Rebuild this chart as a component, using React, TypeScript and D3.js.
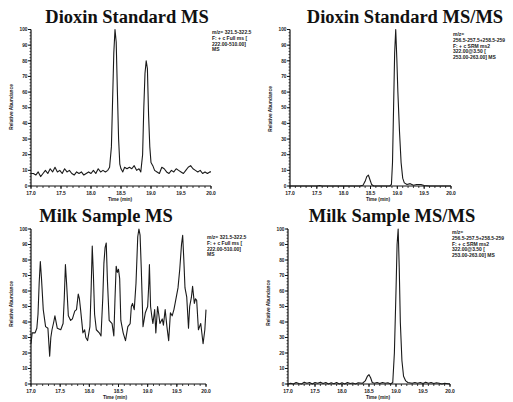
import React from 'react';
import * as d3 from 'd3';

// data: [time (min), relative abundance]
const stdMs: [number, number][] = [
  [17.0, 8], [17.04, 8], [17.08, 7], [17.12, 9], [17.16, 6], [17.2, 8], [17.24, 10], [17.28, 8],
  [17.32, 11], [17.36, 9], [17.4, 12], [17.44, 9], [17.48, 10], [17.52, 8], [17.56, 11], [17.6, 9],
  [17.64, 10], [17.68, 8], [17.72, 7], [17.76, 9], [17.8, 8], [17.84, 9], [17.88, 7], [17.92, 8],
  [17.96, 9], [18.0, 8], [18.04, 10], [18.08, 8], [18.12, 11], [18.16, 9], [18.2, 10], [18.24, 9],
  [18.28, 10], [18.31, 12], [18.34, 25], [18.36, 55], [18.38, 85], [18.4, 100], [18.42, 92],
  [18.44, 60], [18.46, 30], [18.48, 14], [18.5, 11], [18.53, 9], [18.56, 12], [18.6, 11],
  [18.64, 12], [18.68, 11], [18.72, 13], [18.76, 10], [18.8, 11], [18.83, 9], [18.86, 20],
  [18.88, 50], [18.9, 72], [18.92, 80], [18.94, 75], [18.96, 45], [18.98, 25], [19.0, 15],
  [19.03, 13], [19.06, 10], [19.1, 9], [19.14, 8], [19.18, 12], [19.22, 11], [19.26, 9], [19.3, 8],
  [19.34, 10], [19.38, 9], [19.42, 11], [19.46, 10], [19.5, 9], [19.54, 8], [19.58, 10], [19.62, 12],
  [19.66, 13], [19.7, 11], [19.74, 10], [19.78, 9], [19.82, 10], [19.86, 8], [19.9, 9], [19.94, 8],
  [19.98, 9], [20.0, 9],
];

const stdMsMs: [number, number][] = [
  [17.0, 0], [17.5, 0], [17.55, 0.3], [17.6, 0], [18.3, 0], [18.36, 0.5], [18.4, 3], [18.43, 6],
  [18.46, 7], [18.49, 4], [18.52, 1], [18.56, 0], [18.86, 0], [18.89, 1], [18.91, 15], [18.93, 50],
  [18.95, 85], [18.97, 100], [18.99, 82], [19.01, 60], [19.04, 35], [19.07, 15], [19.1, 5],
  [19.13, 2], [19.18, 1], [19.24, 1.5], [19.3, 0.5], [19.36, 1], [19.44, 1], [19.5, 0.3],
  [19.6, 0], [20.0, 0],
];

const milkMs: [number, number][] = [
  [17.0, 26], [17.02, 33], [17.07, 33], [17.1, 36], [17.12, 45], [17.14, 65], [17.16, 79],
  [17.18, 68], [17.21, 48], [17.25, 37], [17.29, 36], [17.32, 18], [17.34, 30], [17.36, 35],
  [17.39, 40], [17.41, 44], [17.45, 36], [17.51, 35], [17.55, 39], [17.57, 55], [17.59, 77],
  [17.61, 65], [17.64, 44], [17.68, 41], [17.71, 42], [17.75, 47], [17.78, 48], [17.81, 58],
  [17.83, 55], [17.85, 48], [17.89, 33], [17.92, 35], [17.94, 30], [17.97, 28], [18.01, 37],
  [18.03, 60], [18.05, 89], [18.07, 70], [18.09, 45], [18.12, 35], [18.17, 33], [18.2, 31],
  [18.23, 55], [18.25, 78], [18.27, 88], [18.29, 91], [18.31, 67], [18.34, 41], [18.39, 39],
  [18.42, 31], [18.44, 55], [18.46, 76], [18.48, 72], [18.5, 74], [18.52, 68], [18.54, 41],
  [18.58, 33], [18.62, 28], [18.66, 37], [18.7, 39], [18.72, 50], [18.74, 52], [18.77, 48],
  [18.8, 65], [18.83, 95], [18.85, 100], [18.87, 96], [18.89, 75], [18.92, 37], [18.96, 46],
  [19.0, 50], [19.02, 65], [19.03, 77], [19.05, 50], [19.07, 44], [19.09, 39], [19.12, 48],
  [19.14, 33], [19.17, 50], [19.19, 45], [19.21, 39], [19.25, 42], [19.27, 38], [19.3, 48],
  [19.33, 37], [19.36, 28], [19.39, 46], [19.42, 44], [19.45, 48], [19.48, 54], [19.52, 62],
  [19.55, 74], [19.58, 90], [19.6, 96], [19.62, 80], [19.64, 62], [19.67, 56], [19.7, 36],
  [19.72, 50], [19.75, 56], [19.77, 63], [19.8, 52], [19.82, 55], [19.84, 54], [19.87, 35],
  [19.91, 39], [19.95, 26], [19.98, 35], [20.0, 48],
];

const milkMsMs: [number, number][] = [
  [17.0, 0], [17.05, 0.5], [17.1, 0], [17.15, 1], [17.2, 0.3], [17.25, 0], [17.3, 1.2], [17.35, 0.5],
  [17.4, 1], [17.45, 0], [17.5, 1], [17.55, 0.5], [17.6, 1.2], [17.65, 0.3], [17.7, 1], [17.75, 0],
  [17.8, 0.8], [17.85, 0.2], [17.9, 1], [17.95, 0], [18.0, 0.8], [18.05, 0], [18.1, 1], [18.15, 0.3],
  [18.2, 0.6], [18.25, 0], [18.3, 0.8], [18.38, 0.5], [18.43, 2], [18.47, 5], [18.5, 6], [18.53, 4],
  [18.56, 1], [18.6, 0.5], [18.65, 1], [18.7, 0.3], [18.75, 1], [18.8, 0.5], [18.85, 0.8], [18.9, 0],
  [18.94, 1], [18.97, 20], [19.0, 60], [19.02, 90], [19.04, 100], [19.06, 75], [19.08, 40],
  [19.11, 15], [19.14, 5], [19.18, 2], [19.22, 1], [19.3, 0.5], [19.35, 1], [19.4, 0.5], [19.45, 1],
  [19.5, 0.3], [19.55, 1.2], [19.6, 0.5], [19.65, 1], [19.7, 0.3], [19.75, 0.8], [19.8, 0.5],
  [19.85, 0], [19.9, 0.5], [20.0, 0],
];

const xTicks = [17.0, 17.5, 18.0, 18.5, 19.0, 19.5, 20.0];
const yTicks = [0, 10, 20, 30, 40, 50, 60, 70, 80, 90, 100];

const fullScanNote = ['m/z= 321.5-322.5', 'F: + c Full ms [', '222.00-510.00]', 'MS'];
const srmNote = ['m/z=', '256.5-257.5+258.5-259', 'F: + c SRM ms2', '322.00@3.50 [', '253.00-263.00] MS'];

type PanelProps = {
  data: [number, number][];
  title: string;
  note: string[];
  xr: [number, number];
  yr: [number, number];
  titlePos: [number, number];
  notePos: [number, number];
  yLabPos: [number, number];
  xLabPos: [number, number];
};

const tickFont = { fontFamily: 'Liberation Sans, Arial, sans-serif', fontWeight: 700 };

function Panel(p: PanelProps) {
  const x = d3.scaleLinear().domain([17, 20]).range(p.xr);
  const y = d3.scaleLinear().domain([0, 100]).range(p.yr);
  const line = d3
    .line<[number, number]>()
    .x((d) => x(d[0]))
    .y((d) => y(d[1]));

  const xMinor = d3.range(170, 201).map((v) => v / 10);
  const yMinor = d3.range(0, 101, 2);

  return (
    <g>
      <text
        x={p.titlePos[0]}
        y={p.titlePos[1]}
        textAnchor="middle"
        fontFamily="Liberation Serif, Times New Roman, serif"
        fontWeight="bold"
        fontSize={18.5}
        fill="#111"
      >
        {p.title}
      </text>

      {/* axes */}
      <line x1={p.xr[0]} x2={p.xr[1]} y1={y(0)} y2={y(0)} stroke="#111" strokeWidth={1.2} />
      <line x1={x(17)} x2={x(17)} y1={y(0)} y2={y(100)} stroke="#111" strokeWidth={1.2} />

      {xMinor.map((t, i) => (
        <line key={'xm' + i} x1={x(t)} x2={x(t)} y1={y(0)} y2={y(0) + 2} stroke="#111" strokeWidth={0.8} />
      ))}
      {xTicks.map((t) => (
        <g key={'xt' + t}>
          <line x1={x(t)} x2={x(t)} y1={y(0)} y2={y(0) + 3} stroke="#111" strokeWidth={1} />
          <text x={x(t)} y={y(0) + 8.5} textAnchor="middle" fontSize={5} {...tickFont} fill="#222">
            {t.toFixed(1)}
          </text>
        </g>
      ))}

      {yMinor.map((v) => (
        <line key={'ym' + v} x1={x(17) - 1.5} x2={x(17)} y1={y(v)} y2={y(v)} stroke="#111" strokeWidth={0.7} />
      ))}
      {yTicks.map((v) => (
        <g key={'yt' + v}>
          <line x1={x(17) - 3} x2={x(17)} y1={y(v)} y2={y(v)} stroke="#111" strokeWidth={1} />
          <text x={x(17) - 3.5} y={y(v) + 1.7} textAnchor="end" fontSize={4.8} {...tickFont} fill="#222">
            {v}
          </text>
        </g>
      ))}

      <text
        transform={`translate(${p.yLabPos[0]},${p.yLabPos[1]}) rotate(-90)`}
        textAnchor="middle"
        fontSize={4.8}
        {...tickFont}
        fill="#222"
      >
        Relative Abundance
      </text>
      <text x={p.xLabPos[0]} y={p.xLabPos[1]} textAnchor="middle" fontSize={4.8} {...tickFont} fill="#222">
        Time (min)
      </text>

      <path d={line(p.data) || ''} fill="none" stroke="#1a1a1a" strokeWidth={1.1} strokeLinejoin="round" />

      {p.note.map((s, i) => (
        <text key={'n' + i} x={p.notePos[0]} y={p.notePos[1] + i * 5.8} fontSize={5} {...tickFont} fill="#222">
          {s}
        </text>
      ))}
    </g>
  );
}

export default function App() {
  return (
    <div style={{ position: 'absolute', left: 0, top: 0 }}>
      <svg width={513} height={402} style={{ display: 'block', background: '#fff' }}>
        <Panel
          data={stdMs}
          title="Dioxin Standard MS"
          note={fullScanNote}
          xr={[31, 211]}
          yr={[186, 29.5]}
          titlePos={[127, 23]}
          notePos={[212, 34]}
          yLabPos={[13, 107]}
          xLabPos={[120, 201]}
        />
        <Panel
          data={stdMsMs}
          title="Dioxin Standard MS/MS"
          note={srmNote}
          xr={[290, 451]}
          yr={[186, 29.5]}
          titlePos={[405, 23]}
          notePos={[453, 36]}
          yLabPos={[272, 109]}
          xLabPos={[378, 201]}
        />
        <Panel
          data={milkMs}
          title="Milk Sample MS"
          note={fullScanNote}
          xr={[31, 206]}
          yr={[384, 229]}
          titlePos={[106, 222]}
          notePos={[207, 239]}
          yLabPos={[13, 304]}
          xLabPos={[115, 399]}
        />
        <Panel
          data={milkMsMs}
          title="Milk Sample MS/MS"
          note={srmNote}
          xr={[288, 450]}
          yr={[384, 229]}
          titlePos={[392, 222]}
          notePos={[452, 234]}
          yLabPos={[270, 303]}
          xLabPos={[378, 399]}
        />
      </svg>
    </div>
  );
}
